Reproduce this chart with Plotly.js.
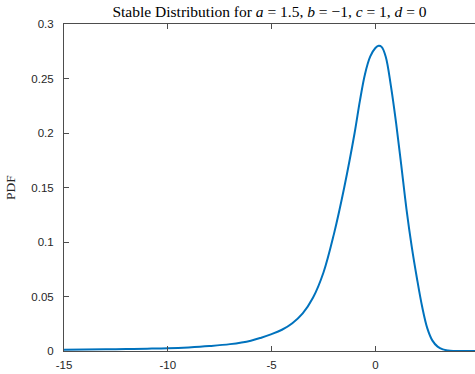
<!DOCTYPE html>
<html>
<head>
<meta charset="utf-8">
<script src="https://cdn.plot.ly/plotly-3.0.1.min.js"></script>
<style>html,body{margin:0;padding:0;background:#fff;}#chart{width:475px;height:374px;}</style>
</head>
<body>
<div id="chart"></div>
<script>
const xValues = [-15, -14, -13, -12, -11, -10, -9, -8, -7, -6, -5.5, -5, -4.5, -4, -3.5, -3, -2.5, -2, -1.5, -1, -0.75, -0.5, -0.25, 0, 0.16, 0.3, 0.5, 0.75, 1.0, 1.25, 1.5, 1.75, 2.0, 2.25, 2.5, 2.75, 3.0, 3.25, 3.5, 3.75, 4.0, 4.4, 4.8];
const pdfValues = [0.0012, 0.0013, 0.0015, 0.0018, 0.0021, 0.0025, 0.0033, 0.0045, 0.0063, 0.0095, 0.0122, 0.0155, 0.0195, 0.0255, 0.0345, 0.0490, 0.0720, 0.1070, 0.1500, 0.2000, 0.2290, 0.2540, 0.2700, 0.2780, 0.2800, 0.2790, 0.2700, 0.2430, 0.2090, 0.1700, 0.1300, 0.0960, 0.0670, 0.0410, 0.0210, 0.0095, 0.0040, 0.0015, 0.0005, 0.0001, 0, 0, 0];
const xTickVals = [-15, -10, -5, 0];
const xTickText = ["-15", "-10", "-5", "0"];
const yTickVals = [0, 0.05, 0.1, 0.15, 0.2, 0.25, 0.3];
const yTickText = ["0", "0.05", "0.1", "0.15", "0.2", "0.25", "0.3"];

const axisColor = '#4d4d4d';
const tickFont = {family: 'Liberation Sans, Arial, sans-serif', size: 11.5, color: '#262626'};

Plotly.newPlot('chart', [{
  x: xValues, y: pdfValues, type: 'scatter', mode: 'lines',
  line: {color: '#0072BD', width: 2, shape: 'spline', smoothing: 1},
  hoverinfo: 'none'
}], {
  width: 475, height: 374,
  margin: {l: 64, r: 0, t: 24, b: 23, pad: 0},
  paper_bgcolor: '#fff', plot_bgcolor: '#fff',
  showlegend: false,
  title: {
    text: 'Stable Distribution for <i>a</i> = 1.5, <i>b</i> = −1, <i>c</i> = 1, <i>d</i> = 0',
    font: {family: 'Liberation Serif, DejaVu Serif, serif', size: 15.5, color: '#000'},
    x: 0.5, xref: 'paper', xanchor: 'center', y: 0.97, yref: 'container', yanchor: 'middle'
  },
  xaxis: {
    range: [-15, 4.8], tickmode: 'array', tickvals: xTickVals, ticktext: xTickText,
    ticks: 'inside', ticklen: 5, tickcolor: axisColor, tickwidth: 1, ticklabelstandoff: 3,
    showline: true, linecolor: axisColor, linewidth: 1, mirror: 'ticks',
    showgrid: false, zeroline: false, tickfont: tickFont, fixedrange: true
  },
  yaxis: {
    range: [0, 0.3], tickmode: 'array', tickvals: yTickVals, ticktext: yTickText,
    ticks: 'inside', ticklen: 5, tickcolor: axisColor, tickwidth: 1, ticklabelstandoff: 7,
    showline: true, linecolor: axisColor, linewidth: 1,
    showgrid: false, zeroline: false, tickfont: tickFont, fixedrange: true,
    title: {text: 'PDF', font: {family: 'Liberation Serif, DejaVu Serif, serif', size: 13.5, color: '#262626'}, standoff: 12}
  }
}, {staticPlot: true});
</script>
</body>
</html>
